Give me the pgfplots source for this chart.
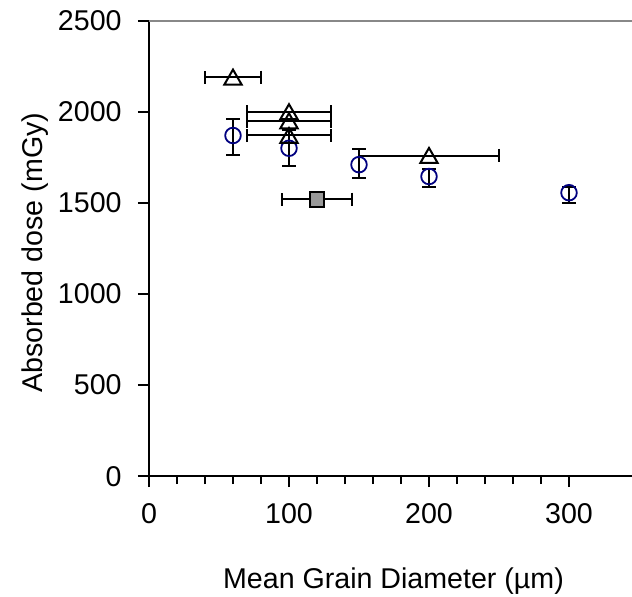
\documentclass[border=0pt]{standalone}
\usepackage{pgfplots}
\pgfplotsset{compat=1.18}
\usepackage{fontspec}
\setmainfont{Liberation Sans}
\definecolor{circblue}{HTML}{000080}
\definecolor{sqgray}{HTML}{999999}
\definecolor{topgray}{HTML}{888888}
\begin{document}
\begin{tikzpicture}
\path[use as bounding box] (-74.5pt,-59.9pt) rectangle (241.5pt,238.1pt);
\begin{axis}[
  scale only axis,
  width=241.5pt, height=227.75pt,
  xmin=0, xmax=345, ymin=0, ymax=2500,
  axis lines=left,
  axis line style={-, line width=1pt, black},
  tick align=outside,
  xtick={0,100,200,300},
  minor x tick num=4,
  ytick={0,500,1000,1500,2000,2500},
  major tick length=5.5pt,
  minor tick length=4pt,
  every tick/.style={black, line width=1pt},
  /pgf/number format/assume math mode=true,
  /pgf/number format/set thousands separator={},
  font=\fontsize{14.3}{16}\selectfont,
  ticklabel style={font=\fontsize{14.3}{16}\selectfont},
  yticklabel style={inner sep=0pt, anchor=east, xshift=-8pt},
  xticklabel style={inner sep=0pt, anchor=north, yshift=-8pt},
  xlabel={Mean Grain Diameter (µm)},
  ylabel={Absorbed dose (mGy)},
  every axis x label/.style={at={([yshift=-56pt, xshift=1.5pt]rel axis cs:0.5,0)}, anchor=base, inner sep=0pt},
  every axis y label/.style={at={([xshift=-53pt, yshift=41.6pt]rel axis cs:0,0)}, anchor=base west, rotate=90, inner sep=0pt},
  clip=false,
  errbase/.style={draw=none, mark=none, forget plot,
    error bars/error bar style={draw=black, line width=1pt},
    error bars/error mark options={draw=black, line width=1pt, mark size=3.3pt, rotate=90}},
]
\draw[topgray, line width=0.85pt] (rel axis cs:0,1) -- (rel axis cs:1,1);
% error bars first (drawn under the markers)
\addplot[errbase, error bars/.cd, y dir=both, y explicit]
coordinates {
  (60,1870) += (0,90) -= (0,105)
  (100,1800) += (0,100) -= (0,100)
  (150,1710) += (0,85) -= (0,75)
  (200,1645) += (0,40) -= (0,55)
  (300,1556) += (0,33) -= (0,55)
};
\addplot[errbase, error bars/.cd, x dir=both, x explicit]
coordinates {
  (200,1760) +- (50,0)
  (100,1870) +- (30,0)
  (100,1950) +- (30,0)
  (100,2000) +- (30,0)
  (60,2190) +- (20,0)
  (120,1520) +- (25,0)
};
% circles
\addplot[only marks, mark=o, mark size=3.9pt, circblue, line width=0.9pt,
  mark options={fill=white}]
coordinates {(60,1870) (100,1800) (150,1710) (200,1645) (300,1556)};
% triangles
\addplot[only marks, mark=triangle, mark size=5pt, black, line width=1pt,
  mark options={fill=white, yshift=-1.2pt}]
coordinates {(200,1760) (100,1870) (100,1950) (100,2000) (60,2190)};
% square
\addplot[only marks, mark=square*, mark size=3.7pt, black, line width=1pt,
  mark options={fill=sqgray}]
coordinates {(120,1520)};
\end{axis}
\end{tikzpicture}
\end{document}
